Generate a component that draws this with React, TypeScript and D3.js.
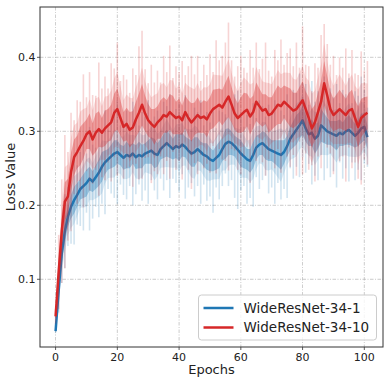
import React from "react";
import * as d3 from "d3";

// ---- data ----
const epochs: number[] = d3.range(0, 102);

const blueMean: number[] = [
  0.030, 0.085, 0.135, 0.165, 0.185, 0.198, 0.207, 0.214, 0.222, 0.226,
  0.230, 0.236, 0.232, 0.238, 0.244, 0.252, 0.258, 0.262, 0.266, 0.270,
  0.272, 0.268, 0.264, 0.268, 0.266, 0.270, 0.265, 0.268, 0.266, 0.270,
  0.272, 0.274, 0.270, 0.268, 0.276, 0.280, 0.284, 0.280, 0.276, 0.280,
  0.278, 0.282, 0.279, 0.274, 0.270, 0.272, 0.276, 0.272, 0.268, 0.266,
  0.262, 0.260, 0.264, 0.268, 0.276, 0.283, 0.286, 0.284, 0.280, 0.275,
  0.270, 0.266, 0.262, 0.260, 0.268, 0.278, 0.282, 0.284, 0.280, 0.276,
  0.274, 0.272, 0.270, 0.268, 0.272, 0.280, 0.290, 0.296, 0.302, 0.308,
  0.315, 0.304, 0.296, 0.298, 0.290, 0.294, 0.308, 0.304, 0.300, 0.298,
  0.296, 0.294, 0.298, 0.296, 0.300, 0.302, 0.298, 0.294, 0.298, 0.304,
  0.306, 0.292,
];
const blueStd: number[] = [
  0.004, 0.010, 0.014, 0.016, 0.014, 0.016, 0.018, 0.016, 0.014, 0.016,
  0.018, 0.016, 0.014, 0.016, 0.018, 0.020, 0.016, 0.014, 0.016, 0.018,
  0.016, 0.014, 0.016, 0.018, 0.016, 0.014, 0.016, 0.018, 0.016, 0.014,
  0.016, 0.018, 0.020, 0.016, 0.014, 0.016, 0.018, 0.016, 0.014, 0.016,
  0.018, 0.016, 0.014, 0.016, 0.018, 0.020, 0.016, 0.014, 0.016, 0.018,
  0.016, 0.014, 0.016, 0.018, 0.016, 0.020, 0.018, 0.016, 0.014, 0.016,
  0.018, 0.016, 0.014, 0.016, 0.018, 0.016, 0.014, 0.016, 0.018, 0.016,
  0.014, 0.016, 0.018, 0.020, 0.016, 0.014, 0.016, 0.018, 0.020, 0.018,
  0.020, 0.018, 0.016, 0.018, 0.020, 0.018, 0.022, 0.020, 0.018, 0.016,
  0.018, 0.020, 0.018, 0.016, 0.018, 0.020, 0.018, 0.016, 0.018, 0.020,
  0.018, 0.016,
];
const blueSpike: number[] = [
  0.002, 0.03, 0.04, 0.05, 0.04, 0.05, 0.06, 0.04, 0.05, 0.06,
  0.04, 0.07, 0.05, 0.04, 0.06, 0.05, 0.07, 0.04, 0.05, 0.06,
  0.07, 0.04, 0.05, 0.06, 0.04, 0.07, 0.05, 0.04, 0.06, 0.05,
  0.07, 0.04, 0.05, 0.06, 0.04, 0.06, 0.05, 0.07, 0.04, 0.05,
  0.06, 0.04, 0.07, 0.05, 0.04, 0.06, 0.05, 0.07, 0.04, 0.06,
  0.05, 0.07, 0.04, 0.06, 0.05, 0.04, 0.06, 0.05, 0.07, 0.08,
  0.05, 0.04, 0.06, 0.05, 0.07, 0.04, 0.06, 0.05, 0.04, 0.06,
  0.05, 0.07, 0.04, 0.06, 0.05, 0.07, 0.04, 0.06, 0.05, 0.07,
  0.05, 0.06, 0.04, 0.07, 0.05, 0.06, 0.04, 0.07, 0.05, 0.06,
  0.05, 0.07, 0.04, 0.06, 0.05, 0.07, 0.04, 0.06, 0.05, 0.07,
  0.05, 0.04,
];

const redMean: number[] = [
  0.050, 0.110, 0.165, 0.205, 0.212, 0.245, 0.265, 0.272, 0.280, 0.287,
  0.296, 0.300, 0.289, 0.298, 0.303, 0.298, 0.304, 0.308, 0.312, 0.325,
  0.330, 0.318, 0.306, 0.310, 0.302, 0.305, 0.316, 0.325, 0.336, 0.324,
  0.315, 0.310, 0.306, 0.312, 0.316, 0.322, 0.320, 0.326, 0.322, 0.318,
  0.320, 0.315, 0.326, 0.318, 0.312, 0.317, 0.322, 0.318, 0.320, 0.316,
  0.324, 0.330, 0.333, 0.336, 0.332, 0.340, 0.347, 0.336, 0.324, 0.318,
  0.322, 0.326, 0.329, 0.320, 0.326, 0.340, 0.334, 0.328, 0.330, 0.322,
  0.324, 0.330, 0.336, 0.334, 0.340, 0.336, 0.332, 0.328, 0.330, 0.336,
  0.342, 0.330, 0.318, 0.304, 0.312, 0.326, 0.340, 0.365, 0.348, 0.330,
  0.322, 0.326, 0.330, 0.326, 0.322, 0.328, 0.330, 0.318, 0.306, 0.318,
  0.322, 0.325,
];
const redStd: number[] = [
  0.005, 0.014, 0.022, 0.026, 0.024, 0.026, 0.024, 0.022, 0.026, 0.024,
  0.020, 0.024, 0.022, 0.026, 0.024, 0.020, 0.024, 0.022, 0.024, 0.026,
  0.028, 0.024, 0.020, 0.022, 0.024, 0.022, 0.024, 0.026, 0.028, 0.024,
  0.022, 0.020, 0.024, 0.022, 0.026, 0.024, 0.022, 0.024, 0.026, 0.022,
  0.024, 0.020, 0.022, 0.024, 0.026, 0.022, 0.024, 0.020, 0.022, 0.024,
  0.022, 0.026, 0.024, 0.022, 0.024, 0.026, 0.028, 0.024, 0.022, 0.020,
  0.024, 0.026, 0.022, 0.024, 0.022, 0.026, 0.024, 0.022, 0.020, 0.024,
  0.022, 0.024, 0.026, 0.024, 0.022, 0.024, 0.026, 0.024, 0.022, 0.024,
  0.026, 0.024, 0.028, 0.026, 0.024, 0.026, 0.028, 0.030, 0.026, 0.024,
  0.022, 0.024, 0.026, 0.024, 0.022, 0.024, 0.026, 0.024, 0.028, 0.026,
  0.024, 0.022,
];
const redSpike: number[] = [
  0.01, 0.05, 0.07, 0.09, 0.06, 0.08, 0.05, 0.07, 0.06, 0.09,
  0.05, 0.08, 0.06, 0.05, 0.09, 0.06, 0.07, 0.05, 0.08, 0.06,
  0.09, 0.05, 0.07, 0.06, 0.05, 0.08, 0.06, 0.09, 0.10, 0.06,
  0.05, 0.08, 0.06, 0.07, 0.05, 0.08, 0.06, 0.09, 0.05, 0.07,
  0.06, 0.08, 0.05, 0.07, 0.09, 0.06, 0.08, 0.05, 0.07, 0.06,
  0.08, 0.05, 0.09, 0.06, 0.07, 0.08, 0.10, 0.06, 0.05, 0.07,
  0.08, 0.06, 0.05, 0.09, 0.06, 0.08, 0.05, 0.07, 0.09, 0.06,
  0.05, 0.08, 0.06, 0.09, 0.05, 0.07, 0.08, 0.06, 0.09, 0.05,
  0.10, 0.06, 0.07, 0.05, 0.08, 0.06, 0.09, 0.08, 0.07, 0.06,
  0.08, 0.05, 0.07, 0.06, 0.09, 0.05, 0.08, 0.06, 0.07, 0.09,
  0.06, 0.07,
];

const xTicks: number[] = [0, 20, 40, 60, 80, 100];
const yTicks: number[] = [0.1, 0.2, 0.3, 0.4];
const seriesNames: string[] = ["WideResNet-34-1", "WideResNet-34-10"];
const seriesColors: string[] = ["#1f77b4", "#d62728"];

const W = 391;
const H = 382;
const M = { left: 40, right: 383, top: 7, bottom: 347 };
const FONT = "DejaVu Sans, Verdana, sans-serif";

export default function App() {
  const x = d3.scaleLinear().domain([-5.05, 106.05]).range([M.left, M.right]);
  const y = d3.scaleLinear().domain([0.0085, 0.468]).range([M.bottom, M.top]);

  const series = [
    { name: seriesNames[0], color: seriesColors[0], mean: blueMean, std: blueStd, spike: blueSpike },
    { name: seriesNames[1], color: seriesColors[1], mean: redMean, std: redStd, spike: redSpike },
  ];

  const idx = d3.range(epochs.length);

  const band = (lo: (i: number) => number, hi: (i: number) => number) =>
    d3
      .area<number>()
      .x((d) => x(epochs[d]))
      .y0((d) => y(lo(d)))
      .y1((d) => y(hi(d)))(idx) || "";

  const line = (vals: number[]) =>
    d3
      .line<number>()
      .x((d) => x(epochs[d]))
      .y((d) => y(vals[d]))(idx) || "";

  return (
    <svg
      width={W}
      height={H}
      style={{ position: "absolute", left: 0, top: 0, background: "#fff" }}
      fontFamily={FONT}
    >
      <defs>
        <clipPath id="plot">
          <rect x={M.left} y={M.top} width={M.right - M.left} height={M.bottom - M.top} />
        </clipPath>
      </defs>
      {/* grid */}
      {xTicks.map((t) => (
        <line key={"gx" + t} x1={x(t)} x2={x(t)} y1={M.top} y2={M.bottom}
          stroke="#b0b0b0" strokeWidth={0.8} strokeDasharray="3.5,1.5,1,1.5" opacity={0.8} />
      ))}
      {yTicks.map((t) => (
        <line key={"gy" + t} x1={M.left} x2={M.right} y1={y(t)} y2={y(t)}
          stroke="#b0b0b0" strokeWidth={0.8} strokeDasharray="3.5,1.5,1,1.5" opacity={0.8} />
      ))}
      <g clipPath="url(#plot)">
        {series.map((s) => (
          <g key={s.name}>
            {idx.map((i) => (
              <line key={"sp" + i} x1={x(epochs[i])} x2={x(epochs[i])}
                y1={y(s.mean[i] - s.spike[i])} y2={y(s.mean[i] + s.spike[i])}
                stroke={s.color} strokeOpacity={0.2} strokeWidth={1.6} />
            ))}
            <path d={band((i) => s.mean[i] - s.std[i] * 1.8, (i) => s.mean[i] + s.std[i] * 1.8)}
              fill={s.color} fillOpacity={0.15} />
            <path d={band((i) => s.mean[i] - s.std[i], (i) => s.mean[i] + s.std[i])}
              fill={s.color} fillOpacity={0.35} />
            <path d={line(s.mean)} fill="none" stroke={s.color} strokeWidth={2.5} strokeLinejoin="round" />
          </g>
        ))}
      </g>
      {/* frame */}
      <rect x={M.left} y={M.top} width={M.right - M.left} height={M.bottom - M.top}
        fill="none" stroke="#333" strokeWidth={1} />
      {/* x ticks */}
      {xTicks.map((t) => (
        <g key={"xt" + t}>
          <line x1={x(t)} x2={x(t)} y1={M.bottom} y2={M.bottom + 3} stroke="#333" strokeWidth={0.8} />
          <text x={x(t)} y={360.5} textAnchor="middle" fontSize={11} fill="#222">{t}</text>
        </g>
      ))}
      {/* y ticks */}
      {yTicks.map((t) => (
        <g key={"yt" + t}>
          <line x1={M.left - 3} x2={M.left} y1={y(t)} y2={y(t)} stroke="#333" strokeWidth={0.8} />
          <text x={35.5} y={y(t)} dy="0.36em" textAnchor="end" fontSize={11} fill="#222">{d3.format(".1f")(t)}</text>
        </g>
      ))}
      <text x={(M.left + M.right) / 2} y={374} textAnchor="middle" fontSize={13} fill="#222">Epochs</text>
      <text transform={`translate(15, ${(M.top + M.bottom) / 2}) rotate(-90)`} textAnchor="middle"
        fontSize={13} fill="#222">Loss Value</text>
      {/* legend */}
      <rect x={198.5} y={295} width={178} height={45} rx={3} fill="#fff" fillOpacity={0.8}
        stroke="#ccc" strokeWidth={1} />
      {series.map((s, i) => (
        <g key={"lg" + s.name}>
          <line x1={203.5} x2={233.5} y1={308 + i * 19.5} y2={308 + i * 19.5} stroke={s.color} strokeWidth={2.5} />
          <text x={243.5} y={308 + i * 19.5} dy="0.36em" fontSize={13.5} fill="#222">{s.name}</text>
        </g>
      ))}
    </svg>
  );
}
